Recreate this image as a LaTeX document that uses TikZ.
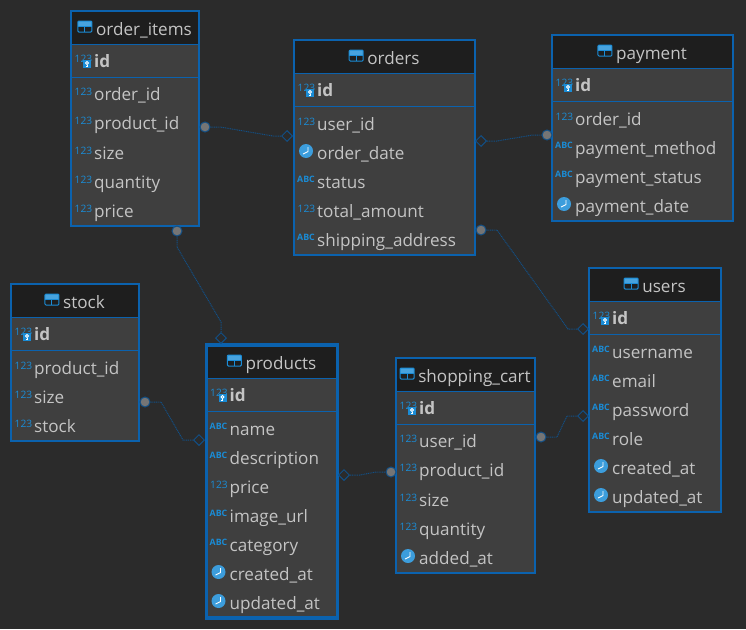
\documentclass[tikz,border=0pt]{standalone}
\usepackage{fontspec}
\setmainfont{Open Sans}
\usetikzlibrary{shapes.geometric}
\definecolor{bgc}{HTML}{2B2B2B}
\definecolor{bodyc}{HTML}{3F3F3F}
\definecolor{headc}{HTML}{1E1E1E}
\definecolor{edgec}{HTML}{0B62AE}
\definecolor{txtc}{HTML}{C4C4C4}
\definecolor{iconc}{HTML}{1A8CD6}
\definecolor{relc}{HTML}{124F85}
\definecolor{dotc}{HTML}{757575}
\tikzset{
  x=1pt,y=-1pt,
  framebox/.style={draw=edgec,fill=bodyc,line width=#1,rectangle,inner sep=0pt,outer sep=0pt},
  framebox/.default=2pt,
  coltext/.style={anchor=west,text=txtc,inner sep=0pt,font=\fontsize{17.1}{20}\selectfont,text height=16pt,text depth=4pt},
  idtext/.style={coltext,font=\fontsize{17.1}{20}\selectfont\bfseries},
  titletext/.style={coltext,anchor=center},
  numicon/.style={text=iconc,inner sep=0pt,font=\fontsize{10.2}{11}\selectfont},
  abcicon/.style={text=iconc,inner sep=0pt,font=\fontsize{8.8}{10}\selectfont\bfseries},
  rel/.style={draw=relc,line width=1pt,dash pattern=on 1pt off 0.8pt},
  enddot/.style={circle,fill=dotc,draw=relc,line width=1pt,minimum size=10pt,inner sep=0pt},
  enddia/.style={diamond,draw=relc,line width=1pt,minimum size=11pt,inner sep=0pt,aspect=1},
}
\newcommand{\iconnum}[2]{\node[numicon,anchor=west] at (#1+3.5,#2-2.5) {123};}
\newcommand{\iconabc}[2]{\node[abcicon,anchor=west] at (#1+3,#2-2.5) {ABC};}
\newcommand{\iconclk}[2]{%
  \fill[color=iconc!85!white] (#1+12,#2-2) circle (7);
  \draw[white,line width=0.9pt] (#1+14,#2-6) -- (#1+14,#2-1.5) -- (#1+9,#2+1);}
\newcommand{\iconkey}[2]{%
  \node[numicon,anchor=west] at (#1+3.5,#2-2.5) {123};
  \fill[iconc] (#1+12,#2-1) rectangle (#1+20,#2+7);
  \draw[white,line width=0.9pt] (#1+16,#2+2) circle (1.5);
  \draw[white,line width=0.9pt] (#1+16,#2+3.5) -- (#1+16,#2+5.5) -- (#1+14.8,#2+5.5);}
\newcommand{\tableicon}[1]{%
  \path (#1.west) ++(-18,-2) coordinate (ic);
  \fill[iconc!80!white] (ic)++(0,-6) rectangle ++(14,5);
  \draw[iconc,line width=1pt,rounded corners=1pt] (ic)++(0,-6) rectangle ++(14,11);
  \draw[iconc,line width=1pt] (ic)++(7,-1) -- ++(0,6) (ic)++(0,-1) -- ++(14,0);}
% #1 node name, #2 title, #3 x1, #4 y1, #5 x2, #6 y2, #7 border, #8 rows: kind/text/y
\newcommand{\dbtable}[8]{%
  \pgfmathsetmacro{\bw}{#5-#3}\pgfmathsetmacro{\bh}{#6-#4}%
  \pgfmathsetmacro{\cx}{(#3+#5)/2}\pgfmathsetmacro{\cy}{(#4+#6)/2}%
  \node[framebox=#7,minimum width=\bw pt,minimum height=\bh pt] (#1) at (\cx,\cy) {};
  \fill[headc] (#3,#4) rectangle (#5,#4+33);
  \draw[edgec,line width=1pt] (#3,#4+33) -- (#5,#4+33) (#3,#4+66) -- (#5,#4+66);
  \draw[edgec,line width=#7] (#3,#4) rectangle (#5,#6);
  \node[titletext] (#1-title) at (\cx+9,#4+18) {#2};
  \tableicon{#1-title}
  \node[idtext] (#1-id) at (#3+23,#4+50) {id};
  \iconkey{#3}{#4+50}
  \foreach \ka/\tx/\ro [count=\ii] in {#8}{
    \node[coltext] (#1-c\ii) at (#3+23,\ro) {\tx};
    \csname icon\ka\endcsname{#3}{\ro}
  }
}
\begin{document}
\begin{tikzpicture}
\useasboundingbox (0,0) rectangle (746,629);
\fill[bgc] (0,0) rectangle (746,629);

\dbtable{items}{order\_items}{71}{11}{199}{226}{2.4pt}{num/order\_id/94,num/product\_id/123,num/size/153,num/quantity/182,num/price/211}
\dbtable{orders}{orders}{294}{40}{475}{255}{2.4pt}{num/user\_id/124,clk/order\_date/153,abc/status/182,num/total\_amount/211,abc/shipping\_address/240}
\dbtable{payment}{payment}{552}{35}{733}{221}{2.4pt}{num/order\_id/119,abc/payment\_method/148,abc/payment\_status/177,clk/payment\_date/206}
\dbtable{users}{users}{589}{268}{721}{512}{2.4pt}{abc/username/352,abc/email/381,abc/password/410,abc/role/439,clk/created\_at/468,clk/updated\_at/497}
\dbtable{stock}{stock}{11}{284}{139}{441}{2.4pt}{num/product\_id/368,num/size/397,num/stock/426}
\dbtable{products}{products}{206.5}{345}{337.5}{618}{3.5pt}{abc/name/429,abc/description/458,num/price/487,abc/image\_url/516,abc/category/545,clk/created\_at/574,clk/updated\_at/603}
\dbtable{cart}{shopping\_cart}{396}{358}{535}{573}{2.4pt}{num/user\_id/441,num/product\_id/470,num/size/500,num/quantity/529,clk/added\_at/558}

\node[enddot] (d1) at (205,127) {};
\node[enddia] (k1) at (287,136) {};
\draw[rel] (d1) -- ++(15,0) -- (273,136) -- (k1.west);

\node[enddia] (k2) at (481,141) {};
\node[enddot] (d2) at (547,135) {};
\draw[rel] (k2.east) -- ++(10,0) -- (533,135) -- (d2);

\node[enddot] (d3) at (481,230) {};
\node[enddia] (k3) at (583,329) {};
\draw[rel] (d3) -- ++(16,0) -- (568,329) -- (k3.west);

\node[enddot] (d4) at (541,437) {};
\node[enddia] (k4) at (583,416) {};
\draw[rel] (d4) -- ++(16,0) -- (567,416) -- (k4.west);

\node[enddia] (k5) at (344,475) {};
\node[enddot] (d5) at (391,472) {};
\draw[rel] (k5.east) -- ++(10,0) -- (376,472) -- (d5);

\node[enddot] (d6) at (145,402) {};
\node[enddia] (k6) at (199,440) {};
\draw[rel] (d6) -- ++(16,0) -- (183,440) -- (k6.west);

\node[enddot] (d7) at (177,231) {};
\node[enddia] (k7) at (221,338) {};
\draw[rel] (d7) -- ++(0,16) -- (221,322) -- (k7.north);
\end{tikzpicture}
\end{document}
